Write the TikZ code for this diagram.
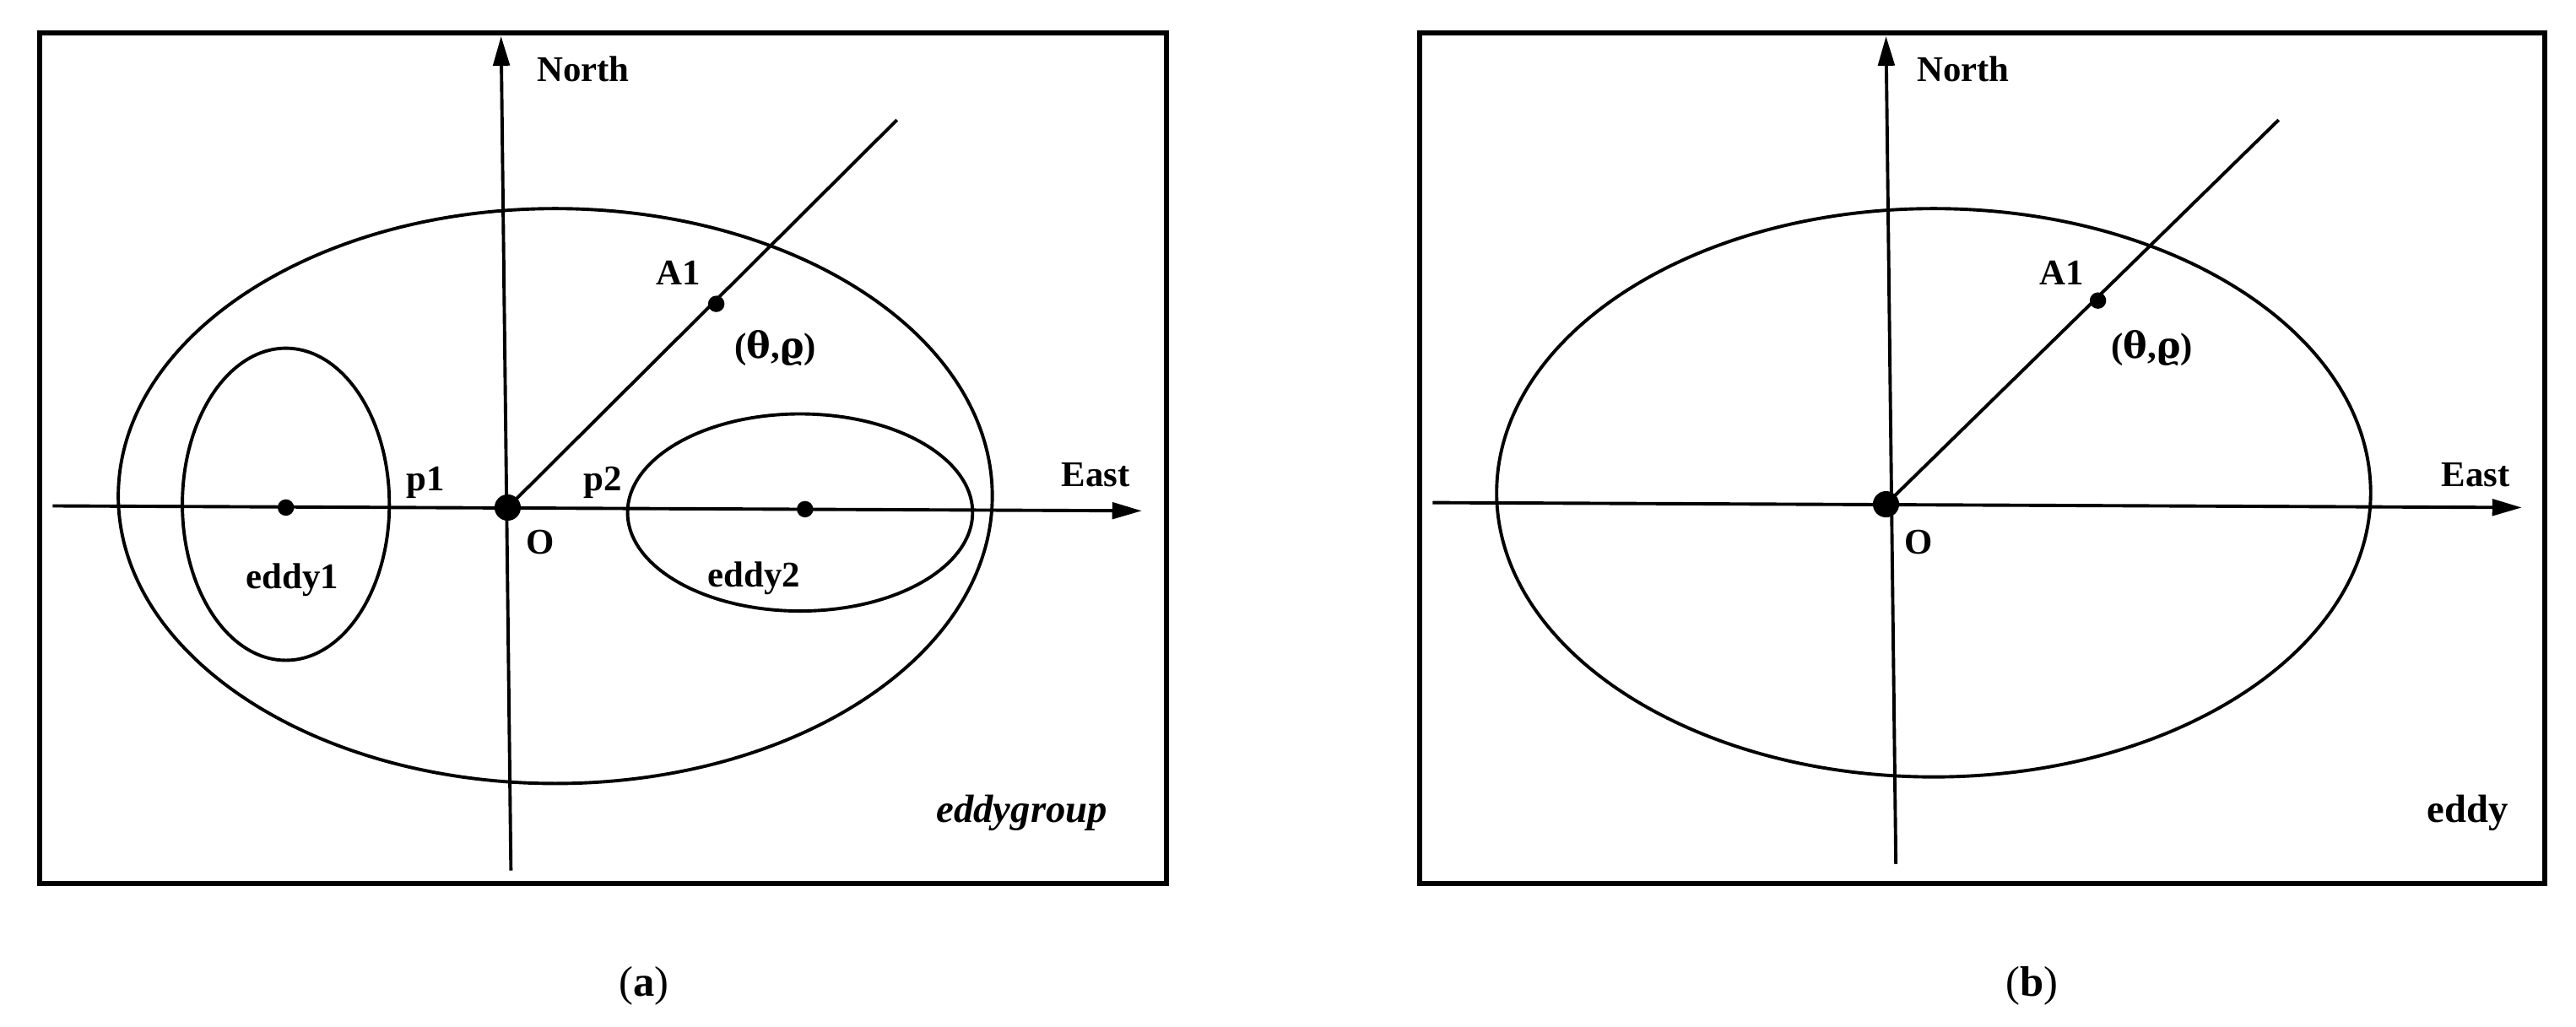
\documentclass[tikz,border=0pt]{standalone}
\usepackage{fontspec}
\setmainfont{Liberation Serif}
\newfontfamily\gkfont{DejaVu Serif}
\usetikzlibrary{arrows.meta}
\begin{document}
\begin{tikzpicture}[x=0.5pt,y=-0.5pt,
  lbl/.style={font=\fontsize{11}{13}\selectfont\bfseries,inner sep=0pt},
  ln/.style={line width=1pt},
  ax/.style={line width=1pt,-{Triangle[length=9pt,width=5pt]}},
  fr/.style={line width=1.5pt},
  dot/.style={circle,fill,inner sep=0pt,minimum size=5pt},
  bigdot/.style={circle,fill,inner sep=0pt,minimum size=8pt}]
\useasboundingbox (0,0) rectangle (1568,625);
% panel a
\draw[fr] (24,20) rectangle (710,538);
\node[bigdot] (Oa) at (309,309) {};
\coordinate (Na1) at (311,530); \coordinate (Na2) at (305,22);
\draw[ax] (Na1) -- (Na2);
\coordinate (Ea1) at (32,308); \coordinate (Ea2) at (695,311);
\draw[ax] (Ea1) -- (Ea2);
\draw[ln] (338,302) ellipse [x radius=266,y radius=175];
\draw[ln] (174,307) ellipse [x radius=63,y radius=95];
\draw[ln] (487,312) ellipse [x radius=105,y radius=60];
\node[dot] (e1) at (174,309) {};
\node[dot] (e2) at (490,310) {};
\coordinate (Ra) at (546,73);
\draw[ln] (Oa.center) -- (Ra);
\node[dot] (A1a) at (436,185) {};
\node[lbl] at (355,42) {North};
\node[lbl] at (413,166) {A1};
\node[lbl] (tha) at (472,212) {({\gkfont θ},{\gkfont ϱ})};
\node[lbl] at (259,294) {p1};
\node[lbl] at (367,294) {p2};
\node[lbl] at (329,330) {O};
\node[lbl] at (178,353) {eddy1};
\node[lbl] at (459,352) {eddy2};
\node[lbl] at (667,289) {East};
\node[lbl,font=\fontsize{12}{14}\selectfont\bfseries\itshape] at (622,495) {eddygroup};
\node[font=\fontsize{13}{15}\selectfont] at (392,600) {(\textbf{a})};
% panel b
\draw[fr] (864,20) rectangle (1549,538);
\node[bigdot] (Ob) at (1148,307) {};
\coordinate (Nb1) at (1154,526); \coordinate (Nb2) at (1148,22);
\draw[ax] (Nb1) -- (Nb2);
\coordinate (Eb1) at (872,306); \coordinate (Eb2) at (1535,309);
\draw[ax] (Eb1) -- (Eb2);
\draw[ln] (1177,300) ellipse [x radius=266,y radius=173];
\coordinate (Rb) at (1387,73);
\draw[ln] (Ob.center) -- (Rb);
\node[dot] (A1b) at (1277,183) {};
\node[lbl] at (1195,42) {North};
\node[lbl] at (1255,166) {A1};
\node[lbl] (thb) at (1310,212) {({\gkfont θ},{\gkfont ϱ})};
\node[lbl] at (1168,330) {O};
\node[lbl] at (1507,289) {East};
\node[lbl,font=\fontsize{12}{14}\selectfont\bfseries] at (1502,495) {eddy};
\node[font=\fontsize{13}{15}\selectfont] at (1237,600) {(\textbf{b})};
\end{tikzpicture}
\end{document}
